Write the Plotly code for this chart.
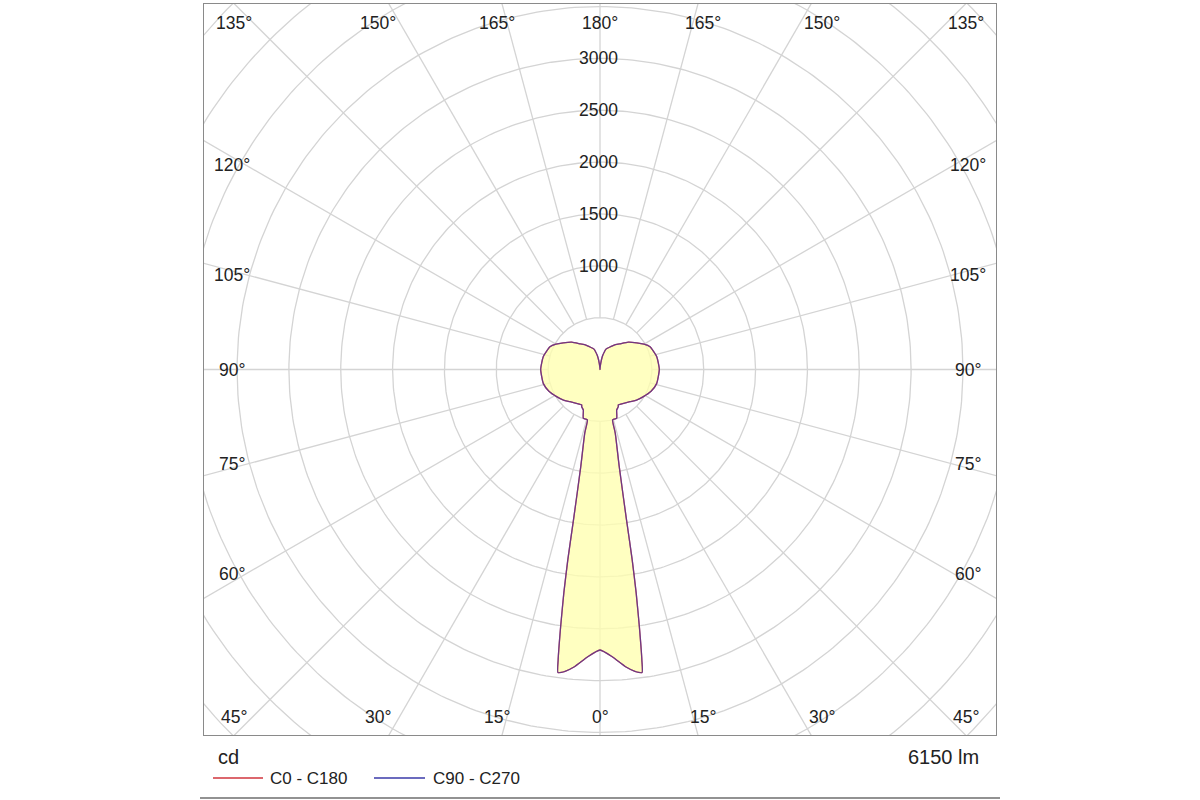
import numpy as np
import plotly.graph_objects as go

# ---------------- data ----------------
gamma_deg = [0, 2.5, 5, 6.6, 7.9, 8.2, 8.7, 9.2, 9.6, 10.0, 11.2, 13.5, 14.0, 16.5, 19.0,
             22.4, 26.2, 27.3, 35, 43, 50, 58, 67, 76, 90, 103, 114.5, 120, 126, 134,
             142.6, 150, 157, 163.7, 166, 169, 171, 173, 175, 177.5, 180]
intensity_c0_c180 = [2705, 2775, 2880, 2930, 2950, 2830, 2510, 2180, 1860, 1470, 955, 630, 502, 498, 495,
                     422, 400, 385, 398, 424, 460, 493, 535, 563, 572, 561, 530, 490, 438, 380,
                     310, 272, 233, 205, 177, 140, 105, 65, 35, 12, 0]
intensity_c90_c270 = [2705, 2775, 2880, 2930, 2950, 2830, 2510, 2180, 1860, 1470, 955, 630, 502, 498, 495,
                      422, 400, 385, 398, 424, 460, 493, 535, 563, 572, 561, 530, 490, 438, 380,
                      310, 272, 233, 205, 177, 140, 105, 65, 35, 12, 0]
series_names = ["C0 - C180", "C90 - C270"]
series_colors = ["#d0343c", "#3a3aa8"]

radial_tick_values = [1000, 1500, 2000, 2500, 3000]
grid_circle_values = [500, 1000, 1500, 2000, 2500, 3000, 3500, 4000, 4500, 5000]
angle_label_values = [0, 15, 30, 45, 60, 75, 90, 105, 120, 135, 150, 165, 180]
unit_label = "cd"
flux_label = "6150 lm"

# ---------------- geometry ----------------
W, H = 1200, 800
PL, PR, PT, PB = 204, 996, 4, 735          # plot frame in px
CX, CY = 600, 369.5                         # pole in px
S = 0.1037                                  # px per cd
x_range = [(PL - CX) / S, (PR - CX) / S]
y_range = [-(PB - CY) / S, (CY - PT) / S]

FONT = "Liberation Sans, Arial, sans-serif"
GRID = "#d4d4d4"
TXT = "#222"


def closed_curve(g, I):
    g = np.radians(np.asarray(g, float))
    I = np.asarray(I, float)
    xr, yr = I * np.sin(g), -I * np.cos(g)
    # right half 0..180, left half back from just below 180 to 0 (closing point)
    x = np.concatenate([xr, -xr[-2::-1]])
    y = np.concatenate([yr, yr[-2::-1]])
    return x, y


fig = go.Figure()

# grid circles
t = np.linspace(0, 2 * np.pi, 361)
cx, cy = [], []
for r in grid_circle_values:
    cx += list(r * np.cos(t)) + [None]
    cy += list(r * np.sin(t)) + [None]
fig.add_trace(go.Scatter(x=cx, y=cy, mode="lines", line=dict(color=GRID, width=1.3),
                         hoverinfo="skip", showlegend=False))

# grid spokes (every 15 deg, starting at the 500 cd circle)
sx, sy = [], []
for a in range(0, 360, 15):
    ar = np.radians(a)
    r0, r1 = grid_circle_values[0], 8000
    sx += [r0 * np.sin(ar), r1 * np.sin(ar), None]
    sy += [-r0 * np.cos(ar), -r1 * np.cos(ar), None]
fig.add_trace(go.Scatter(x=sx, y=sy, mode="lines", line=dict(color=GRID, width=1.3),
                         hoverinfo="skip", showlegend=False))

# fill
fx, fy = closed_curve(gamma_deg, intensity_c0_c180)
fig.add_trace(go.Scatter(x=fx, y=fy, mode="lines", fill="toself",
                         fillcolor="rgba(255,255,175,0.78)",
                         line=dict(width=0, shape="spline", smoothing=0.5),
                         hoverinfo="skip", showlegend=False))

# curves
for name, vals, col, op in [(series_names[0], intensity_c0_c180, series_colors[0], 1.0),
                            (series_names[1], intensity_c90_c270, series_colors[1], 0.65)]:
    x, y = closed_curve(gamma_deg, vals)
    fig.add_trace(go.Scatter(x=x, y=y, mode="lines", name=name, opacity=op,
                             line=dict(color=col, width=1.3, shape="spline", smoothing=0.5),
                             showlegend=False))

annotations = []

# radial tick labels
for v in radial_tick_values:
    annotations.append(dict(x=-15, y=v, xref="x", yref="y", text=str(v), showarrow=False,
                            font=dict(family=FONT, size=17.5, color=TXT),
                            xanchor="center", yanchor="middle"))

# angle labels (placed near where each spoke meets the frame)
for g in angle_label_values:
    gr = np.radians(g)
    dx, dy = np.sin(gr), -np.cos(gr)
    sides = [0] if g in (0, 180) else [-1, 1]
    for sd in sides:
        if abs(dy) >= np.cos(np.radians(45)) - 1e-9:
            tt = 384 / abs(dy)
            xp = min(tt * abs(dx), 366) * (sd if sd else 1)
            yp = 347 * np.sign(dy)
        else:
            xp = 368 * sd
            yp = 354 * dy / abs(dx)
        annotations.append(dict(x=xp / S, y=yp / S, xref="x", yref="y", text=f"{g}°",
                                showarrow=False, font=dict(family=FONT, size=17.5, color=TXT),
                                xanchor="center", yanchor="middle"))


def px_to_paper(px, py):
    return (px - PL) / (PR - PL), (PB - py) / (PB - PT)


# unit and flux
ux, uy = px_to_paper(216, 757)
annotations.append(dict(x=ux, y=uy, xref="paper", yref="paper", text=unit_label, showarrow=False,
                        font=dict(family=FONT, size=20, color=TXT), xanchor="left", yanchor="middle"))
lx, ly = px_to_paper(981, 757)
annotations.append(dict(x=lx, y=ly, xref="paper", yref="paper", text=flux_label, showarrow=False,
                        font=dict(family=FONT, size=20, color=TXT), xanchor="right", yanchor="middle"))

# legend (line samples + labels)
shapes = []
legend_items = [(213, 263, 268), (374, 425, 431)]
for (x0, x1, xt), name, col in zip(legend_items, series_names, series_colors):
    a0, b0 = px_to_paper(x0, 778)
    a1, _ = px_to_paper(x1, 778)
    shapes.append(dict(type="line", xref="paper", yref="paper", x0=a0, x1=a1, y0=b0, y1=b0,
                       line=dict(color=col, width=1.3)))
    at, bt = px_to_paper(xt, 778)
    annotations.append(dict(x=at, y=bt, xref="paper", yref="paper", text=name, showarrow=False,
                            font=dict(family=FONT, size=17, color=TXT), xanchor="left", yanchor="middle"))

# bottom rule line
b0x, b0y = px_to_paper(200, 798)
b1x, _ = px_to_paper(1000, 798)
shapes.append(dict(type="line", xref="paper", yref="paper", x0=b0x, x1=b1x, y0=b0y, y1=b0y,
                   line=dict(color="#6e6e6e", width=1.5)))

axis_common = dict(showgrid=False, zeroline=False, showticklabels=False, ticks="",
                   showline=True, mirror=True, linecolor="#8a8a8a", linewidth=1, fixedrange=True)
fig.update_layout(
    width=W, height=H,
    margin=dict(l=PL, r=W - PR, t=PT, b=H - PB),
    paper_bgcolor="white", plot_bgcolor="white",
    xaxis=dict(range=x_range, **axis_common),
    yaxis=dict(range=y_range, **axis_common),
    annotations=annotations, shapes=shapes,
    showlegend=False,
)

fig.write_html("out.html", config={"displayModeBar": False},
               post_script="document.body.style.margin='0px';document.body.style.overflow='hidden';")
